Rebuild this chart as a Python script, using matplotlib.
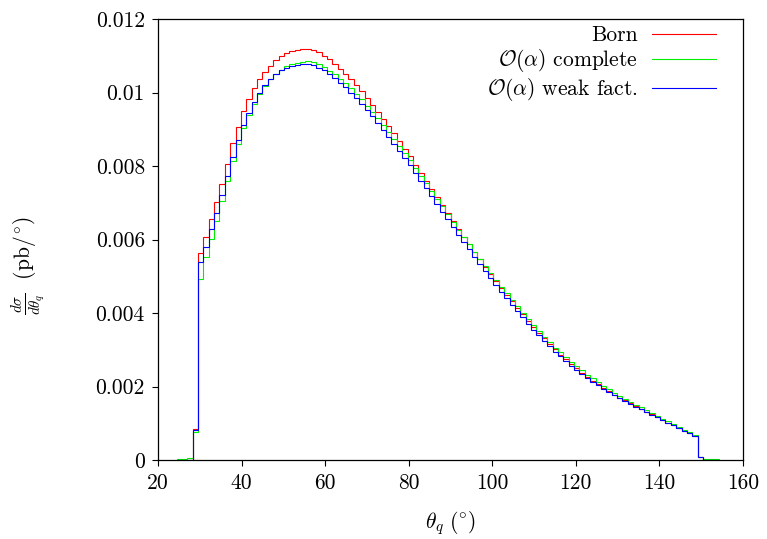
import numpy as np
import matplotlib
matplotlib.use("Agg")
import matplotlib.pyplot as plt

plt.rcParams["font.family"] = "serif"
plt.rcParams["font.serif"] = ["cmr10"]
plt.rcParams["mathtext.fontset"] = "cm"
plt.rcParams["axes.unicode_minus"] = False

# ── Data: 140 bins over 0..180 deg, only bins 19..119 are non-empty ──────────
BIN_WIDTH = 180 / 140
first_bin, last_bin = 19, 119

born = [
    0, 0, 0, 0.00083, 0.00562, 0.00608, 0.00655, 0.00701, 0.00752, 0.00805,
    0.00862, 0.00907, 0.00951, 0.00981, 0.01011, 0.01036, 0.01056, 0.01073, 0.01088, 0.01099,
    0.01107, 0.01113, 0.01117, 0.01119, 0.01118, 0.01115, 0.01109, 0.01100, 0.01090, 0.01078,
    0.01065, 0.01051, 0.01036, 0.01020, 0.01003, 0.00985, 0.00967, 0.00948, 0.00929, 0.00909,
    0.00889, 0.00869, 0.00847, 0.00826, 0.00804, 0.00782, 0.00760, 0.00738, 0.00716, 0.00694,
    0.00672, 0.00650, 0.00628, 0.00607, 0.00587, 0.00566, 0.00546, 0.00526, 0.00507, 0.00487,
    0.00469, 0.00450, 0.00432, 0.00414, 0.00397, 0.00379, 0.00363, 0.00346, 0.00331, 0.00315,
    0.00301, 0.00287, 0.00274, 0.00261, 0.00249, 0.00238, 0.00226, 0.00216, 0.00206, 0.00196,
    0.00187, 0.00178, 0.00170, 0.00162, 0.00154, 0.00146, 0.00139, 0.00131, 0.00124, 0.00117,
    0.00109, 0.00102, 0.00094, 0.00087, 0.00080, 0.00073, 0.00066, 0.00008, 0, 0,
    0,
]

complete = [
    0.00002, 0.00003, 0.00005, 0.00075, 0.00492, 0.00552, 0.00602, 0.00651, 0.00705, 0.00760,
    0.00813, 0.00861, 0.00904, 0.00939, 0.00970, 0.00997, 0.01018, 0.01036, 0.01051, 0.01062,
    0.01071, 0.01077, 0.01081, 0.01084, 0.01085, 0.01082, 0.01077, 0.01069, 0.01059, 0.01049,
    0.01037, 0.01025, 0.01011, 0.00997, 0.00981, 0.00964, 0.00947, 0.00930, 0.00912, 0.00893,
    0.00874, 0.00855, 0.00836, 0.00816, 0.00795, 0.00774, 0.00753, 0.00732, 0.00711, 0.00690,
    0.00669, 0.00648, 0.00627, 0.00607, 0.00587, 0.00567, 0.00547, 0.00528, 0.00509, 0.00490,
    0.00472, 0.00454, 0.00436, 0.00418, 0.00401, 0.00384, 0.00367, 0.00351, 0.00336, 0.00320,
    0.00306, 0.00293, 0.00280, 0.00267, 0.00255, 0.00244, 0.00232, 0.00222, 0.00211, 0.00202,
    0.00192, 0.00183, 0.00174, 0.00166, 0.00158, 0.00150, 0.00143, 0.00135, 0.00127, 0.00120,
    0.00112, 0.00105, 0.00097, 0.00090, 0.00082, 0.00075, 0.00067, 0.00009, 0.00003, 0.00002,
    0.00002,
]

weak_fact = [
    0, 0, 0, 0.00082, 0.00539, 0.00580, 0.00628, 0.00671, 0.00721, 0.00773,
    0.00825, 0.00871, 0.00912, 0.00945, 0.00975, 0.01000, 0.01020, 0.01036, 0.01050, 0.01060,
    0.01067, 0.01072, 0.01076, 0.01078, 0.01077, 0.01074, 0.01068, 0.01060, 0.01050, 0.01039,
    0.01027, 0.01014, 0.01000, 0.00985, 0.00969, 0.00952, 0.00935, 0.00917, 0.00899, 0.00880,
    0.00861, 0.00842, 0.00822, 0.00802, 0.00781, 0.00760, 0.00739, 0.00718, 0.00697, 0.00676,
    0.00655, 0.00634, 0.00613, 0.00593, 0.00573, 0.00553, 0.00533, 0.00514, 0.00495, 0.00476,
    0.00458, 0.00440, 0.00422, 0.00405, 0.00388, 0.00371, 0.00355, 0.00339, 0.00324, 0.00309,
    0.00295, 0.00282, 0.00269, 0.00257, 0.00245, 0.00234, 0.00223, 0.00213, 0.00203, 0.00194,
    0.00185, 0.00176, 0.00168, 0.00160, 0.00152, 0.00145, 0.00138, 0.00130, 0.00123, 0.00116,
    0.00109, 0.00102, 0.00094, 0.00087, 0.00080, 0.00073, 0.00066, 0.00008, 0, 0,
    0,
]

series_labels = ["Born", r"$\mathcal{O}(\alpha)$ complete", r"$\mathcal{O}(\alpha)$ weak fact."]
series_colors = ["#ff0000", "#00ee00", "#0000ff"]

x_ticks = [20, 40, 60, 80, 100, 120, 140, 160]
y_ticks = [0, 0.002, 0.004, 0.006, 0.008, 0.01, 0.012]
y_tick_labels = ["0", "0.002", "0.004", "0.006", "0.008", "0.01", "0.012"]

edges = np.arange(first_bin, last_bin + 2) * BIN_WIDTH
FS = 15.5

# ── Plot ──────────────────────────────────────────────────────────────────────
fig = plt.figure(figsize=(7.67, 5.39), dpi=100)
ax = fig.add_axes([158 / 767, 79 / 539, 585 / 767, 441 / 539])

for vals, label, color in zip([born, complete, weak_fact], series_labels, series_colors):
    ax.stairs(vals, edges, color=color, linewidth=0.8, baseline=0, label=label)

ax.set_xlim(20, 160)
ax.set_ylim(0, 0.012)
ax.set_xticks(x_ticks)
ax.set_yticks(y_ticks)
ax.set_yticklabels(y_tick_labels)
ax.tick_params(direction="out", length=4.5, width=0.8, labelsize=FS, pad=5,
               top=False, right=False)
for sp in ax.spines.values():
    sp.set_linewidth(0.9)

ax.set_xlabel(r"$\theta_q\ (^{\circ})$", fontsize=FS)
ax.xaxis.set_label_coords(0.5, -0.112)
ax.set_ylabel(r"$\frac{d\sigma}{d\theta_q}\ \ (\mathrm{pb}/^{\circ})$", fontsize=FS)
ax.yaxis.set_label_coords(-0.19, 0.44)

leg = ax.legend(loc="upper right", bbox_to_anchor=(0.954, 0.985), frameon=False,
                markerfirst=False, fontsize=FS, handlelength=3.0, handletextpad=0.65,
                borderpad=0, borderaxespad=0, labelspacing=0.1)
for line in leg.get_lines():
    line.set_linewidth(0.8)

fig.savefig("out.png", dpi=100)
